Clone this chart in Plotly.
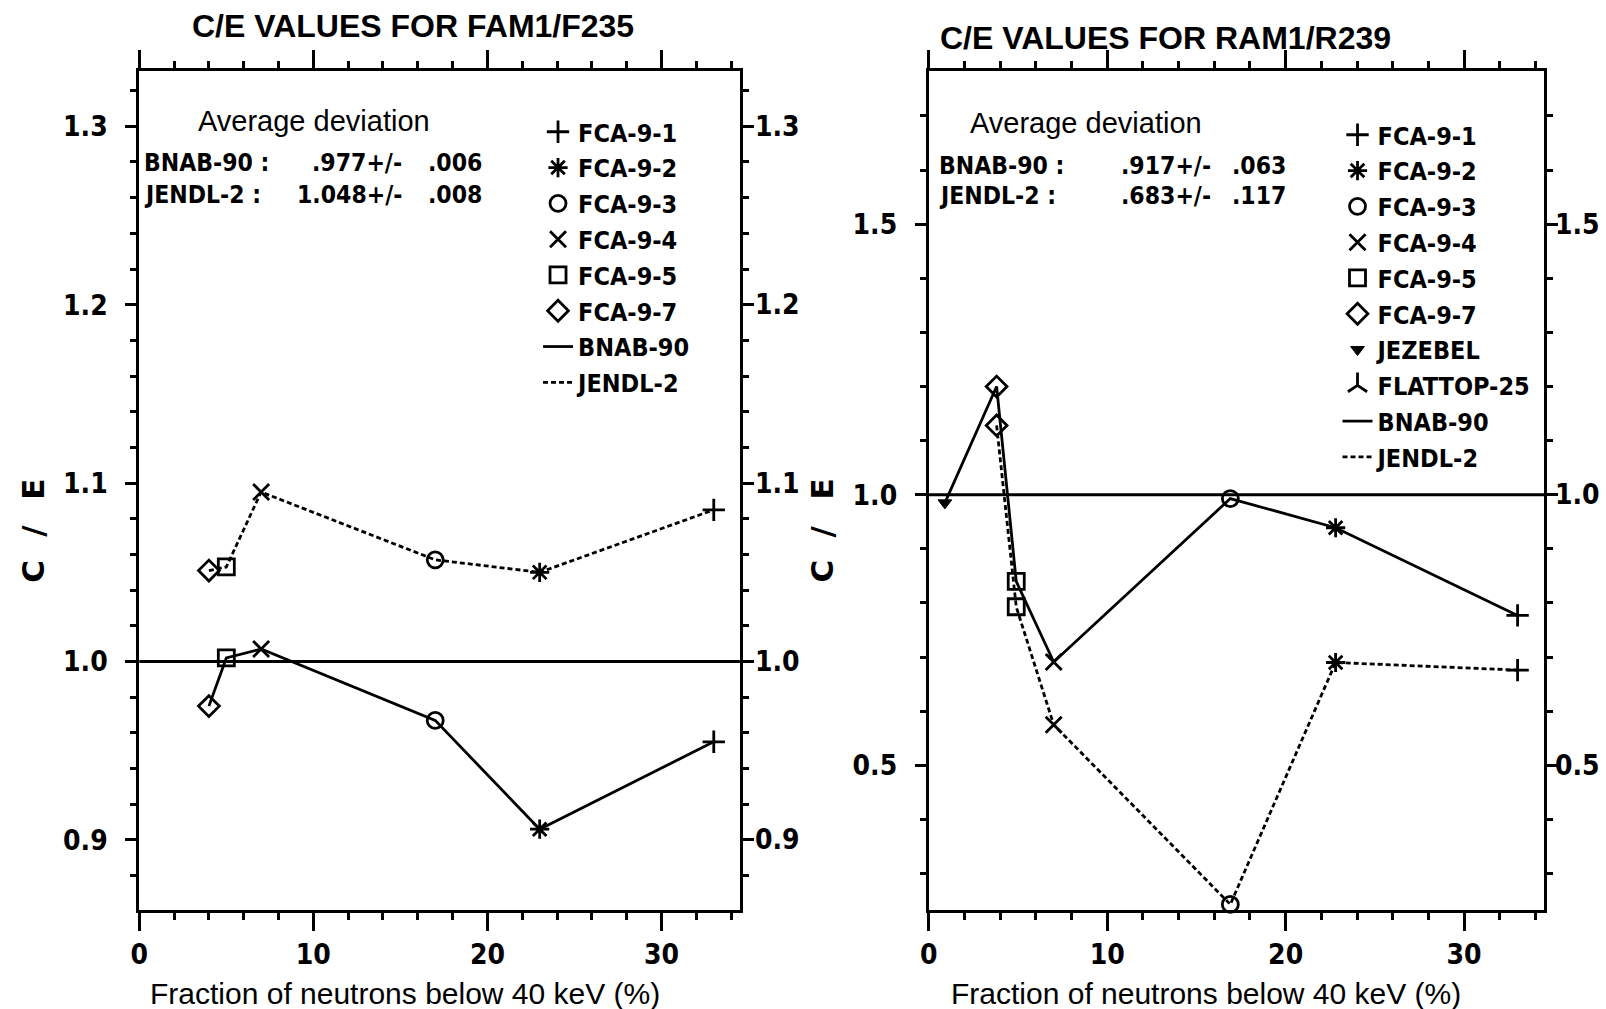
import plotly.graph_objects as go

W, H = 1606, 1009

# ---------------- data ----------------
# FAM1/F235 panel (fraction of neutrons below 40 keV, C/E)
fam_exps = ["FCA-9-1", "FCA-9-2", "FCA-9-3", "FCA-9-4", "FCA-9-5", "FCA-9-7"]
fam_frac = [33.0, 23.0, 17.0, 7.0, 5.0, 4.0]
fam_bnab = [0.955, 0.906, 0.967, 1.007, 1.002, 0.975]
fam_jendl = [1.085, 1.050, 1.057, 1.095, 1.053, 1.051]

# RAM1/R239 panel
ram_exps = ["FCA-9-1", "FCA-9-2", "FCA-9-3", "FCA-9-4", "FCA-9-5", "FCA-9-7",
            "JEZEBEL", "FLATTOP-25"]
ram_frac = [33.0, 22.8, 16.9, 7.0, 4.9, 3.8, 0.9, None]
ram_bnab = [0.777, 0.939, 0.993, 0.691, 0.840, 1.200, 0.985, None]
ram_jendl = [0.676, 0.690, 0.243, 0.575, 0.793, 1.128, None, None]

# average deviation tables
fam_avg = [("BNAB-90 :", ".977+/-", ".006"), ("JENDL-2 :", "1.048+/-", ".008")]
ram_avg = [("BNAB-90 :", ".917+/-", ".063"), ("JENDL-2 :", ".683+/-", ".117")]

fam_yticks = [0.9, 1.0, 1.1, 1.2, 1.3]
ram_yticks = [0.5, 1.0, 1.5]
x_ticks = [0, 10, 20, 30]

symbols = {
    "FCA-9-1": "cross-thin-open",
    "FCA-9-2": "asterisk-open",
    "FCA-9-3": "circle-open",
    "FCA-9-4": "x-thin-open",
    "FCA-9-5": "square-open",
    "FCA-9-7": "diamond-open",
    "JEZEBEL": "triangle-down",
    "FLATTOP-25": "y-up-open",
}

COND = "DejaVu Sans Condensed, DejaVu Sans, sans-serif"
HELV = "Liberation Sans, Arial, sans-serif"
INK = "black"


def px(x):
    return x / W


def py(y):
    return 1 - y / H


fig = go.Figure()


def add_panel(exps, frac, bnab, jendl, xa, ya, legend):
    # markers for each assembly (BNAB-90 and JENDL-2 values)
    for name, xv, b, j in zip(exps, frac, bnab, jendl):
        xs, ys = [], []
        for v in (b, j):
            if v is not None and xv is not None:
                xs.append(xv)
                ys.append(v)
        if not xs:
            xs, ys = [None], [None]
        filled = symbols[name] == "triangle-down"
        fig.add_trace(go.Scatter(
            x=xs, y=ys, mode="markers", name=name, xaxis=xa, yaxis=ya,
            legend=legend, legendgroup=legend + name, cliponaxis=False,
            marker=dict(symbol=symbols[name], size=12 if filled else 16,
                        color=INK,
                        line=dict(color=INK, width=1 if filled else 2.8)),
        ))
    # connecting lines, ordered along the x axis
    for label, vals, dash in (("BNAB-90", bnab, "solid"), ("JENDL-2", jendl, "5px,3px")):
        pts = sorted((xv, v) for xv, v in zip(frac, vals)
                     if xv is not None and v is not None)
        fig.add_trace(go.Scatter(
            x=[p[0] for p in pts], y=[p[1] for p in pts], mode="lines",
            name=label, xaxis=xa, yaxis=ya, legend=legend,
            legendgroup=legend + label,
            line=dict(color=INK, width=2.8, dash=dash),
        ))


add_panel(fam_exps, fam_frac, fam_bnab, fam_jendl, "x", "y", "legend")
add_panel(ram_exps, ram_frac, ram_bnab, ram_jendl, "x2", "y2", "legend2")

tickfont = dict(family=COND, size=28, color=INK, weight="bold")


def xaxis_cfg(domain, anchor):
    return dict(
        domain=domain, anchor=anchor, range=[0, 34.5],
        tickvals=x_ticks, ticktext=[str(t) for t in x_ticks],
        ticks="outside", ticklen=18, tickwidth=3, tickcolor=INK,
        minor=dict(dtick=2, tick0=0, ticks="outside", ticklen=7, tickwidth=2.5,
                   tickcolor=INK, showgrid=False),
        showline=True, linewidth=3, linecolor=INK, mirror="allticks",
        showgrid=False, zeroline=False, tickfont=tickfont,
    )


def yaxis_cfg(domain, anchor, rng, vals, minor):
    return dict(
        domain=domain, anchor=anchor, range=rng,
        tickvals=vals, ticktext=[f"{v:.1f}" for v in vals],
        ticks="outside", ticklen=11, tickwidth=3, tickcolor=INK,
        ticklabelstandoff=12,
        minor=dict(dtick=minor, ticks="outside", ticklen=6, tickwidth=2.5,
                   tickcolor=INK, showgrid=False),
        showline=True, linewidth=3, linecolor=INK, mirror="allticks",
        showgrid=False, zeroline=False, tickfont=tickfont,
    )


dom_y = [py(909.5), py(71)]
fam_range = [0.861, 1.331]
ram_range = [0.2336, 1.783]

legend_font = dict(family=COND, size=25, color=INK, weight="bold")

fig.update_layout(
    width=W, height=H, autosize=False,
    margin=dict(l=0, r=0, t=0, b=0),
    paper_bgcolor="white", plot_bgcolor="white",
    xaxis=xaxis_cfg([px(131), px(735)], "y"),
    yaxis=yaxis_cfg(dom_y, "x", fam_range, fam_yticks, 0.02),
    xaxis2=xaxis_cfg([px(925), px(1544)], "y2"),
    yaxis2=yaxis_cfg(dom_y, "x2", ram_range, ram_yticks, 0.1),
    legend=dict(x=px(532), y=py(109), xanchor="left", yanchor="top",
                bgcolor="rgba(0,0,0,0)", borderwidth=0, tracegroupgap=0.3,
                font=legend_font, itemwidth=30),
    legend2=dict(x=px(1336), y=py(112), xanchor="left", yanchor="top",
                 bgcolor="rgba(0,0,0,0)", borderwidth=0, tracegroupgap=0.3,
                 font=legend_font, itemwidth=30),
    showlegend=True,
)

# reference line C/E = 1
for xa, ya in (("x", "y"), ("x2", "y2")):
    fig.add_shape(type="line", xref=f"{xa} domain", yref=ya, x0=0, x1=1,
                  y0=1.0, y1=1.0, line=dict(color=INK, width=2.8))

ann = []

# tick labels repeated on the right-hand frame
for xa, ya, vals, shift in (("x", "y", fam_yticks, 13), ("x2", "y2", ram_yticks, 9)):
    for v in vals:
        ann.append(dict(
            x=1, y=v, xref=f"{xa} domain", yref=ya, text=f"{v:.1f}",
            showarrow=False, xanchor="left", yanchor="middle", xshift=shift,
            font=tickfont,
        ))


def text(x, y, s, size, family=HELV, bold=False, xanchor="center", angle=0):
    ann.append(dict(
        x=px(x), y=py(y), xref="paper", yref="paper", text=s, showarrow=False,
        xanchor=xanchor, yanchor="middle", textangle=angle,
        font=dict(family=family, size=size, color=INK,
                  weight="bold" if bold else "normal"),
    ))


# titles
text(406, 26, "C/E VALUES FOR FAM1/F235", 32, bold=True)
text(1163, 38, "C/E VALUES FOR RAM1/R239", 32, bold=True)

# axis titles
text(398, 993, "Fraction of neutrons below 40 keV (%)", 30)
text(1204, 993, "Fraction of neutrons below 40 keV (%)", 30)
for cx in (24, 818):
    for ch, cy in (("C", 571), ("/", 531), ("E", 489)):
        text(cx, cy, ch, 31, family="DejaVu Sans, sans-serif", bold=True, angle=-90)

# average deviation blocks
for (lx, vx, ex, hx, y0), rows in (((134, 397, 419, 188, 121), fam_avg),
                                   ((933, 1211, 1228, 964, 123), ram_avg)):
    text(hx, y0, "Average deviation", 29, xanchor="left")
    for i, (lab, val, err) in enumerate(rows):
        yy = y0 + 42 + 31 * i
        text(lx, yy, lab, 24.5, family=COND, bold=True, xanchor="left")
        text(vx, yy, val, 24.5, family=COND, bold=True, xanchor="right")
        text(ex, yy, err, 24.5, family=COND, bold=True, xanchor="left")

fig.update_layout(annotations=ann)

fig.write_html("out.html")
